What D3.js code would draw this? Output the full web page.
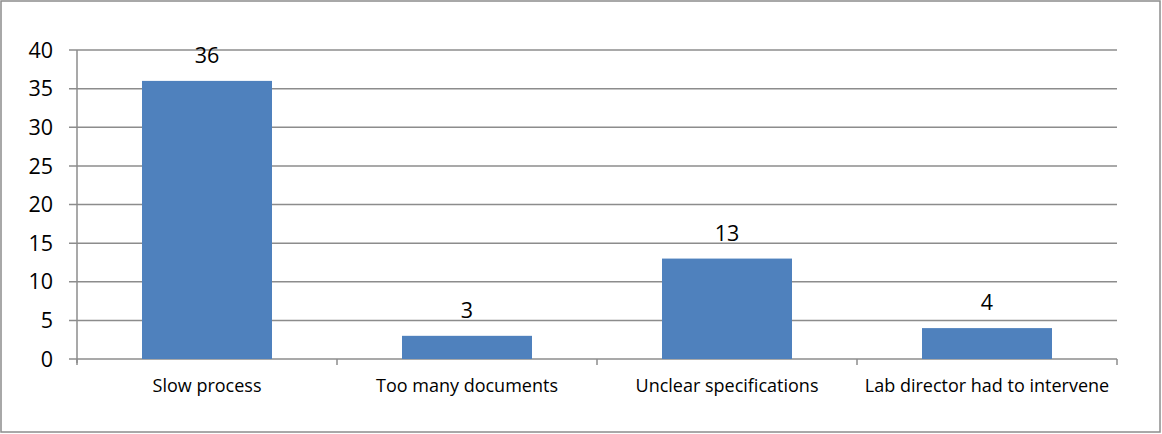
<!DOCTYPE html>
<html>
<head>
<meta charset="utf-8">
<script src="https://cdn.jsdelivr.net/npm/d3@7"></script>
<style>
  body { margin: 0; background: #fff; }
  text { font-family: "Open Sans", "Noto Sans", sans-serif; }
</style>
</head>
<body>
<svg id="chart" width="1162" height="434"></svg>
<script>
// data
const categories = ['Slow process', 'Too many documents', 'Unclear specifications', 'Lab director had to intervene'];
const counts = [36, 3, 13, 4];
const yTicks = [0, 5, 10, 15, 20, 25, 30, 35, 40];

const svg = d3.select('#chart');
const width = +svg.attr('width');
const height = +svg.attr('height');

const margin = { left: 77, right: 45, top: 50, bottom: 75 };
const plotW = width - margin.left - margin.right;
const plotH = height - margin.top - margin.bottom;

// outer frame
svg.append('rect')
    .attr('x', 1).attr('y', 1)
    .attr('width', width - 3).attr('height', height - 3)
    .attr('fill', 'none').attr('stroke', '#8c8c8c').attr('stroke-width', 1.5);

const g = svg.append('g').attr('transform', `translate(${margin.left},${margin.top})`);

const x = d3.scaleBand().domain(categories).range([0, plotW]).paddingInner(0.5).paddingOuter(0.25);
const y = d3.scaleLinear().domain([0, 40]).range([plotH, 0]);

// gridlines + y ticks
g.selectAll('.grid').data(yTicks).enter().append('line')
    .attr('x1', -8).attr('x2', plotW)
    .attr('y1', d => y(d)).attr('y2', d => y(d))
    .attr('stroke', '#8c8c8c').attr('stroke-width', 1.5);

g.selectAll('.ylab').data(yTicks).enter().append('text')
    .attr('x', -24).attr('y', d => y(d))
    .attr('dy', '0.36em')
    .attr('text-anchor', 'end')
    .attr('font-size', 21.5)
    .attr('fill', '#000')
    .text(d => d);

// y axis line
g.append('line').attr('x1', 0).attr('x2', 0).attr('y1', 0).attr('y2', plotH + 4)
    .attr('stroke', '#8c8c8c').attr('stroke-width', 1.5);

// x category ticks
const step = x.step();
g.selectAll('.xtick').data(d3.range(categories.length + 1)).enter().append('line')
    .attr('x1', d => d * step).attr('x2', d => d * step)
    .attr('y1', plotH).attr('y2', plotH + 6)
    .attr('stroke', '#8c8c8c').attr('stroke-width', 1.5);

// bars
g.selectAll('.bar').data(counts).enter().append('rect')
    .attr('x', (d, i) => x(categories[i]))
    .attr('y', d => y(d))
    .attr('width', x.bandwidth())
    .attr('height', d => plotH - y(d))
    .attr('fill', '#4f81bd');

// value labels
g.selectAll('.val').data(counts).enter().append('text')
    .attr('x', (d, i) => x(categories[i]) + x.bandwidth() / 2)
    .attr('y', d => y(d) - 18)
    .attr('text-anchor', 'middle')
    .attr('font-size', 21.5)
    .attr('fill', '#000')
    .text(d => d);

// category labels
g.selectAll('.cat').data(categories).enter().append('text')
    .attr('x', d => x(d) + x.bandwidth() / 2)
    .attr('y', plotH + 33)
    .attr('text-anchor', 'middle')
    .attr('font-size', 18)
    .attr('fill', '#000')
    .text(d => d);
</script>
</body>
</html>
